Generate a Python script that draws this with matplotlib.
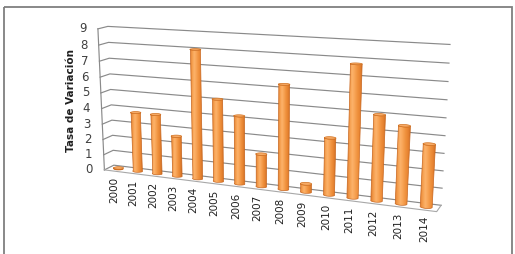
import numpy as np
import matplotlib
matplotlib.use("Agg")
import matplotlib.pyplot as plt
from matplotlib.patches import Rectangle, Polygon

years = [str(y) for y in range(2000, 2015)]
values = [0.05, 3.8, 3.8, 2.55, 8.0, 5.1, 4.2, 2.0, 6.3, 0.5, 3.4, 7.75, 5.0, 4.5, 3.6]
y_ticks = list(range(0, 10))
y_label = "Tasa de Variación"

# perspective of the chart box: world (category, depth, value) -> pixel
world_ref = np.array([
    (-0.5, 0, 9), (-0.5, 1, 9), (-0.5, 0, 0), (-0.5, 1, 0),
    (14.5, 1, 9), (14.5, 1, 0), (1, 0.5, 0), (14, 0.5, 0),
    (-0.5, 1, 8), (14.5, 0, 0),
])
pixel_ref = np.array([
    (97, 29.3), (108.3, 26.7), (105, 170), (113, 165.5),
    (450, 44.3), (440, 205.5), (138, 170.5), (428, 207.5),
    (109, 41.7), (436, 211),
])


def fit_camera(w, p):
    pn = (p - [256, 127]) / 100.0
    rows = []
    for (X, Y, Z), (u, v) in zip(w, pn):
        rows.append([X, Y, Z, 1, 0, 0, 0, 0, -u * X, -u * Y, -u * Z, -u])
        rows.append([0, 0, 0, 0, X, Y, Z, 1, -v * X, -v * Y, -v * Z, -v])
    _, _, vt = np.linalg.svd(np.array(rows))
    return vt[-1].reshape(3, 4)


P = fit_camera(world_ref, pixel_ref)


def project(X, Y, Z):
    X, Y, Z = np.broadcast_arrays(np.asarray(X, float), np.asarray(Y, float), np.asarray(Z, float))
    h = P @ np.vstack([X.ravel(), Y.ravel(), Z.ravel(), np.ones(X.size)])
    return h[0] / h[2] * 100 + 256, h[1] / h[2] * 100 + 127


fig = plt.figure(figsize=(5.15, 2.54), dpi=100)
ax = fig.add_axes([0, 0, 1, 1])

# frame
ax.add_patch(Rectangle((4, 7), 508, 260, fill=False, edgecolor="#7f7f7f", lw=1.3))

x0, x1 = -0.5, len(years) - 0.5
grid_c = "#8a8a8a"

# walls gridlines
for z in y_ticks:
    u, v = project([x0, x0, x1], [0, 1, 1], [z, z, z])
    ax.plot(u, v, color=grid_c, lw=0.85, zorder=1)
u, v = project([x0, x0], [0, 0], [0, 9])
ax.plot(u, v, color=grid_c, lw=0.85, zorder=1)

# floor
u, v = project([x0, x1, x1], [0, 0, 1], [0, 0, 0])
ax.plot(u, v, color="#a8a8a8", lw=0.8, zorder=1)

# cylinders: horizontal shading clipped to each silhouette
r = 0.235
shade = np.array([
    [0.88, 0.50, 0.20], [0.96, 0.62, 0.30], [0.99, 0.70, 0.42], [0.97, 0.64, 0.33],
    [0.94, 0.57, 0.24], [0.90, 0.51, 0.19], [0.80, 0.43, 0.14],
])
xs_s = np.linspace(0, 1, shade.shape[0])
grad = np.stack([np.interp(np.linspace(0, 1, 64), xs_s, shade[:, k]) for k in range(3)], axis=-1)[None]
front = np.linspace(np.pi, 2 * np.pi, 33)
ring = np.linspace(0, 2 * np.pi, 65)
for i, val in enumerate(values):
    ub, vb = project(i + r * np.cos(front), 0.5 + r * np.sin(front), 0)
    ut, vt_ = project(i + r * np.cos(front[::-1]), 0.5 + r * np.sin(front[::-1]), val)
    sil = Polygon(np.column_stack([np.r_[ub, ut], np.r_[vb, vt_]]), closed=True,
                  facecolor="none", edgecolor="#c8661e", lw=0.5, zorder=4)
    ax.add_patch(sil)
    uu, vv = np.r_[ub, ut], np.r_[vb, vt_]
    im = ax.imshow(grad, extent=(uu.min(), uu.max(), vv.max(), vv.min()), aspect="auto",
                   interpolation="bilinear", zorder=3)
    im.set_clip_path(sil)
    u, v = project(i + r * np.cos(ring), 0.5 + r * np.sin(ring), val)
    ax.add_patch(Polygon(np.column_stack([u, v]), closed=True,
                         facecolor="#f7ab66", edgecolor="#d0701f", lw=0.5, zorder=5))

# tick labels
for z in y_ticks:
    u, v = project(x0, 0, z)
    ax.text(u[0] - 15, v[0], str(z), ha="center", va="center", fontsize=8.5, color="#404040")

for i, yr in enumerate(years):
    u, v = project(i, 0, 0)
    ax.text(u[0], v[0] + 6, yr, ha="center", va="top", rotation=90, fontsize=7.5, color="#202020")

u, v = project(x0, 0, 4.5)
ax.text(u[0] - 30, v[0], y_label, ha="center", va="center", rotation=90,
        fontsize=7.5, fontweight="bold", color="#202020")

ax.set_xlim(0, 515)
ax.set_ylim(254, 0)
ax.axis("off")

fig.savefig("out.png", dpi=100)
